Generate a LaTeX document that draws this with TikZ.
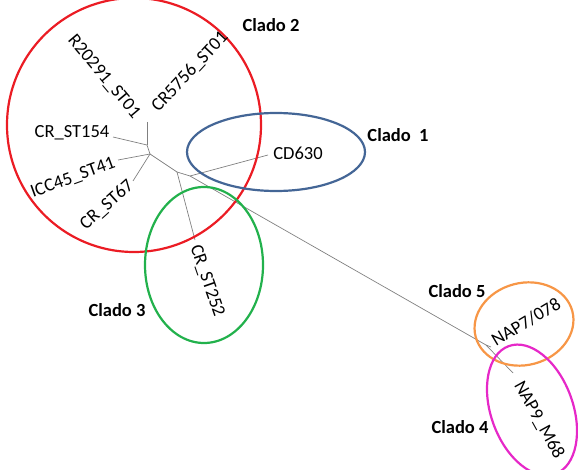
\documentclass[tikz,border=0pt]{standalone}
\usepackage{fontspec}
\setmainfont{Carlito}
\usetikzlibrary{positioning,calc}

\definecolor{cladored}{RGB}{235,28,36}
\definecolor{cladoblue}{RGB}{68,102,150}
\definecolor{cladogreen}{RGB}{34,177,76}
\definecolor{cladoorange}{RGB}{247,150,70}
\definecolor{cladopink}{RGB}{230,40,200}

\begin{document}
\begin{tikzpicture}[x=1pt, y=-1pt,
  branch/.style={draw=gray, line width=0.7pt},
  clade/.style={line width=2.2pt},
  leaf/.style={draw=none, inner sep=0pt, font=\fontsize{18.5}{20}\selectfont},
  cladename/.style={draw=none, inner sep=0pt, font=\fontsize{18.5}{20}\selectfont\bfseries}]

\useasboundingbox (0,0) rectangle (578,470);

% Tree: internal nodes and leaf tips
\coordinate (n1) at (147,145);
\coordinate (n2) at (150,154);
\coordinate (n3) at (177,172);
\coordinate (n4) at (190,176);
\coordinate (n5) at (486,345);
\coordinate (tST01) at (147,122);
\coordinate (tST154) at (113,137);
\coordinate (tST41) at (118,160);
\coordinate (tST67) at (133,181);
\coordinate (tST252) at (195,240);
\coordinate (tCD630) at (268,155);
\coordinate (tNAP7) at (491,347);
\coordinate (tNAP9) at (513,373);

% Branches
\draw[branch] (tST01) -- (n1);
\draw[branch] (tST154) -- (n1);
\draw[branch] (n1) -- (n2);
\draw[branch] (tST41) -- (n2);
\draw[branch] (tST67) -- (n2);
\draw[branch] (n2) -- (n3);
\draw[branch] (n3) -- (tST252);
\draw[branch] (n3) -- (n4);
\draw[branch] (n4) -- (tCD630);
\draw[branch] (n4) -- (n5);
\draw[branch] (n5) -- (tNAP7);
\draw[branch] (n5) -- (tNAP9);

% Clade outlines
\draw[clade, cladored] (134,125) circle (127);
\draw[clade, cladoblue] (276,152) ellipse [x radius=89, y radius=39];
\draw[clade, cladogreen] (204,265) ellipse [x radius=59, y radius=78];
\draw[clade, cladoorange, rotate around={15:(524,324)}] (524,324) ellipse [x radius=50, y radius=41];
\draw[clade, cladopink, rotate around={20:(532,410)}] (532,410) ellipse [x radius=41, y radius=68];

% Leaf labels
\node[leaf, rotate=-50] (R20291) at (104,77) {R20291\_ST01};
\node[leaf, rotate=47] (CR5756) at (190,72) {CR5756\_ST01};
\node[leaf] (CRST154) at (72,133) {CR\_ST154};
\node[leaf, rotate=20] (ICC45) at (73,178) {ICC45\_ST41};
\node[leaf, rotate=42] (CRST67) at (107,205) {CR\_ST67};
\node[leaf, rotate=-71] (CRST252) at (207,281) {CR\_ST252};
\node[leaf] (CD630) at (298,153) {CD630};
\node[leaf, rotate=31] (NAP7) at (526,322) {NAP7/078};
\node[leaf, rotate=-61] (NAP9) at (539,420) {NAP9\_M68};

% Clade names
\node[cladename] (clado2) at (271,25) {Clado 2};
\node[cladename] (clado1) at (398,135) {Clado\ \ 1};
\node[cladename] (clado3) at (117,310) {Clado 3};
\node[cladename] (clado5) at (457,291) {Clado 5};
\node[cladename] (clado4) at (460,427) {Clado 4};

\end{tikzpicture}
\end{document}
